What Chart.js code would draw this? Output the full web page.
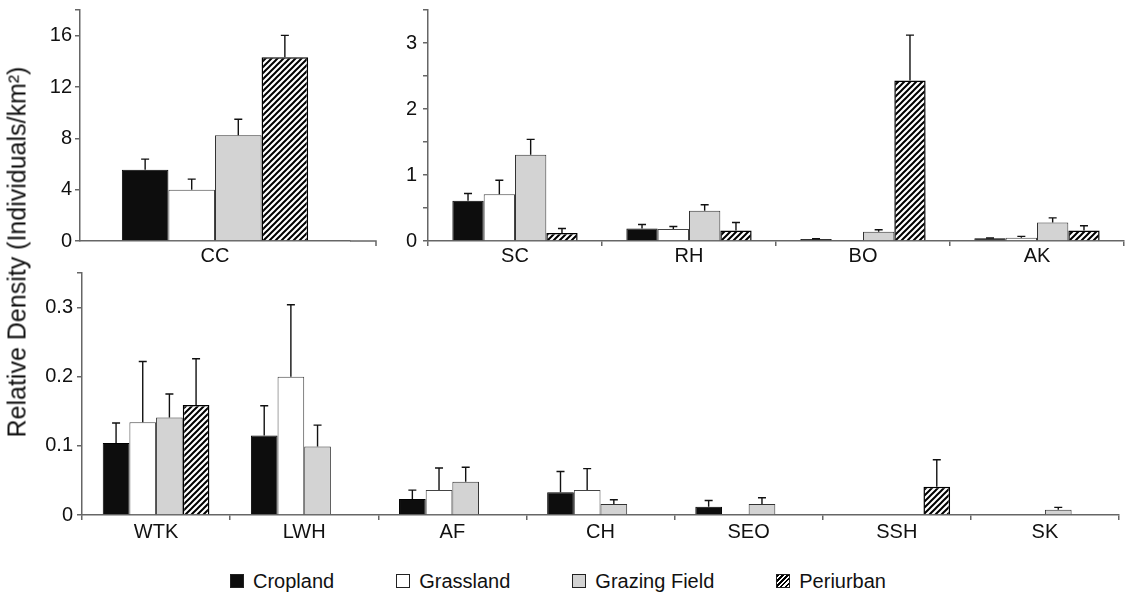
<!DOCTYPE html>
<html>
<head>
<meta charset="utf-8">
<script src="https://cdn.jsdelivr.net/npm/chart.js@4.4.1/dist/chart.umd.min.js"></script>
<style>
  body { margin: 0; background: #fff; }
  #wrap { position: relative; width: 1132px; height: 593px; font-family: 'Liberation Sans', Arial, sans-serif; color: #111; overflow: hidden; }
  canvas { position: absolute; }
  #ytitle { position: absolute; left: 17px; top: 252px; transform: translate(-50%, -50%) rotate(-90deg); white-space: nowrap; font-size: 25px; }
  #legend { position: absolute; left: 230px; top: 570px; display: flex; gap: 62px; font-size: 20px; line-height: 22px; }
  #legend .item { display: flex; align-items: center; }
  #legend .sw { width: 12px; height: 12px; border: 1px solid #222; margin-right: 9px; }
</style>
</head>
<body>
<div id="wrap">
  <canvas id="chartA" width="380" height="275" style="left:0;top:0"></canvas>
  <canvas id="chartB" width="752" height="275" style="left:380px;top:0"></canvas>
  <canvas id="chartC" width="1132" height="300" style="left:0;top:250px"></canvas>
  <div id="ytitle">Relative Density (Individuals/km²)</div>
  <div id="legend"></div>
</div>
<script>
// habitat types (series)
var habitats = ['Cropland', 'Grassland', 'Grazing Field', 'Periurban'];

// panel A
var labelsA = ['CC'];
var croplandA = [5.55];
var grasslandA = [3.99];
var grazingA = [8.24];
var periurbanA = [14.31];
var croplandErrA = [0.83];
var grasslandErrA = [0.83];
var grazingErrA = [1.25];
var periurbanErrA = [1.71];

// panel B
var labelsB = ['SC', 'RH', 'BO', 'AK'];
var croplandB = [0.61, 0.19, 0.03, 0.04];
var grasslandB = [0.71, 0.18, null, 0.05];
var grazingB = [1.305, 0.46, 0.14, 0.28];
var periurbanB = [0.12, 0.16, 2.43, 0.16];
var croplandErrB = [0.11, 0.06, 0.005, 0.005];
var grasslandErrB = [0.21, 0.04, null, 0.02];
var grazingErrB = [0.235, 0.09, 0.03, 0.07];
var periurbanErrB = [0.07, 0.12, 0.69, 0.07];

// panel C
var labelsC = ['WTK', 'LWH', 'AF', 'CH', 'SEO', 'SSH', 'SK'];
var croplandC = [0.104, 0.115, 0.023, 0.033, 0.012, null, null];
var grasslandC = [0.134, 0.2, 0.036, 0.036, null, null, null];
var grazingC = [0.141, 0.099, 0.048, 0.016, 0.016, null, 0.0077];
var periurbanC = [0.159, null, null, null, null, 0.041, null];
var croplandErrC = [0.029, 0.043, 0.013, 0.030, 0.009, null, null];
var grasslandErrC = [0.088, 0.104, 0.032, 0.031, null, null, null];
var grazingErrC = [0.034, 0.031, 0.021, 0.006, 0.009, null, 0.0033];
var periurbanErrC = [0.067, null, null, null, null, 0.039, null];

// diagonal hatch fill for the periurban bars
function makeHatch() {
    var c = document.createElement('canvas');
    c.width = 6; c.height = 6;
    var g = c.getContext('2d');
    g.fillStyle = '#fff';
    g.fillRect(0, 0, 6, 6);
    g.strokeStyle = '#000';
    g.lineWidth = 2;
    g.beginPath();
    g.moveTo(-1, 7); g.lineTo(7, -1);
    g.moveTo(-1, 1); g.lineTo(1, -1);
    g.moveTo(5, 7); g.lineTo(7, 5);
    g.stroke();
    return g.createPattern(c, 'repeat');
}
var hatch = makeHatch();

var fills = ['#0d0d0d', '#ffffff', '#d3d3d3', hatch];
var borders = ['#000', '#444', '#333', '#000'];

// one-sided error bars drawn from the bar top
const errorBars = {
    id: 'errorBars',
    afterDatasetsDraw(chart) {
        const ctx = chart.ctx;
        const yScale = chart.scales.y;
        chart.data.datasets.forEach(function (ds, i) {
            const meta = chart.getDatasetMeta(i);
            meta.data.forEach(function (bar, j) {
                const v = ds.data[j], e = ds.errors[j];
                if (v == null || e == null) return;
                const yTop = yScale.getPixelForValue(v + e);
                ctx.save();
                ctx.strokeStyle = '#111';
                ctx.lineWidth = 1.4;
                ctx.beginPath();
                ctx.moveTo(bar.x, bar.y);
                ctx.lineTo(bar.x, yTop);
                ctx.moveTo(bar.x - 4, yTop);
                ctx.lineTo(bar.x + 4, yTop);
                ctx.stroke();
                ctx.restore();
            });
        });
    }
};

// x axis of the CC panel runs a bit past its category
const axisExtend = {
    id: 'axisExtend',
    afterDraw(chart, args, opts) {
        if (!opts.extra) return;
        const a = chart.chartArea, ctx = chart.ctx;
        ctx.save();
        ctx.strokeStyle = '#666';
        ctx.lineWidth = 1.5;
        ctx.beginPath();
        ctx.moveTo(a.right, a.bottom);
        ctx.lineTo(a.right + opts.extra, a.bottom);
        ctx.lineTo(a.right + opts.extra, a.bottom + 5);
        ctx.stroke();
        ctx.restore();
    }
};

function makeChart(id, labels, values, errors, cfg) {
    const ctx = document.getElementById(id).getContext('2d');
    return new Chart(ctx, {
        type: 'bar',
        data: {
            labels: labels,
            datasets: habitats.map(function (h, i) {
                return {
                    label: h,
                    data: values[i],
                    errors: errors[i],
                    backgroundColor: fills[i],
                    borderColor: borders[i],
                    borderWidth: i === 3 ? 1.5 : 1,
                    categoryPercentage: cfg.catPct,
                    barPercentage: 1.0,
                };
            }),
        },
        options: {
            responsive: false,
            animation: false,
            layout: { padding: cfg.pad },
            plugins: {
                legend: { display: false },
                tooltip: { enabled: false },
                axisExtend: { extra: cfg.extra || 0 },
            },
            scales: {
                x: {
                    grid: { display: !cfg.extra, drawOnChartArea: false, tickLength: 5, color: '#666', lineWidth: 1.5, offset: true },
                    border: { color: '#666', width: 1.5 },
                    ticks: { font: { family: 'Liberation Sans', size: 20 }, color: '#111', padding: cfg.xPad },
                    afterFit: function (scale) { scale.height = cfg.xHeight; },
                },
                y: {
                    min: 0,
                    max: cfg.max,
                    grid: { drawOnChartArea: false, tickLength: 5, color: '#666', lineWidth: 1.5 },
                    border: { color: '#666', width: 1.5 },
                    ticks: {
                        stepSize: cfg.step,
                        font: { family: 'Liberation Sans', size: 20 },
                        color: '#111',
                        padding: cfg.yPad,
                        callback: cfg.label,
                    },
                    afterFit: function (scale) {
                        scale.width = cfg.yWidth;
                        scale.paddingTop = 0;
                        scale.paddingBottom = 0;
                    },
                },
            },
        },
        plugins: [errorBars, axisExtend],
    });
}

makeChart('chartA', labelsA,
    [croplandA, grasslandA, grazingA, periurbanA],
    [croplandErrA, grasslandErrA, grazingErrA, periurbanErrA],
    { max: 18, step: 4, label: function (v) { return v % 4 === 0 ? v : ''; },
      pad: { top: 10, right: 30 }, yWidth: 80, xHeight: 34, extra: 26,
      catPct: 0.69, xPad: -2, yPad: 3 });

makeChart('chartB', labelsB,
    [croplandB, grasslandB, grazingB, periurbanB],
    [croplandErrB, grasslandErrB, grazingErrB, periurbanErrB],
    { max: 3.5, step: 0.5, label: function (v) { return Number.isInteger(v) ? v : ''; },
      pad: { top: 10, right: 8 }, yWidth: 48, xHeight: 34,
      catPct: 0.72, xPad: -2, yPad: 6 });

makeChart('chartC', labelsC,
    [croplandC, grasslandC, grazingC, periurbanC],
    [croplandErrC, grasslandErrC, grazingErrC, periurbanErrC],
    { max: 0.35, step: 0.1, label: function (v) {
        var r = Math.round(v * 10);
        if (Math.abs(v * 10 - r) > 1e-6 || r > 3) return '';
        return r === 0 ? '0' : (r / 10).toString();
      },
      pad: { top: 23, right: 13 }, yWidth: 82, xHeight: 35,
      catPct: 0.72, xPad: 0, yPad: 4 });

// legend
var legendEl = document.getElementById('legend');
var swatchCss = ['background:#0d0d0d', 'background:#fff', 'background:#d3d3d3',
    'background:repeating-linear-gradient(135deg,#000 0 1.5px,#fff 1.5px 3.5px)'];
habitats.forEach(function (h, i) {
    var item = document.createElement('div');
    item.className = 'item';
    item.innerHTML = '<span class="sw" style="' + swatchCss[i] + '"></span><span>' + h + '</span>';
    legendEl.appendChild(item);
});
</script>
</body>
</html>
